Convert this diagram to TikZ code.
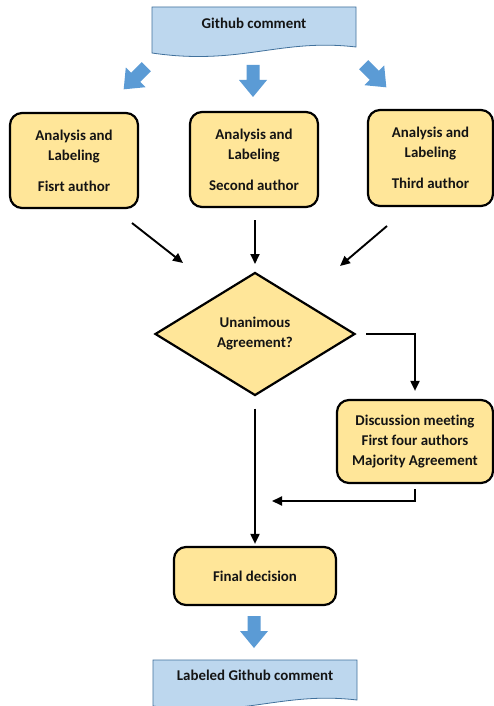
\documentclass[tikz,border=0pt]{standalone}
\usepackage{fontspec}
\setmainfont{Carlito}[Ligatures=NoCommon]
\usetikzlibrary{arrows.meta,shapes.geometric}
\definecolor{boxfill}{HTML}{FFE699}
\definecolor{docfill}{HTML}{BDD7EE}
\definecolor{docline}{HTML}{41719C}
\definecolor{barrow}{HTML}{5B9BD5}
\begin{document}
\begin{tikzpicture}[x=1pt,y=-1pt,
  txt/.style={font=\bfseries\fontsize{14.9}{20}\selectfont, text=black!92, align=center},
  stepbox/.style={txt, draw=black, line width=2.2pt, fill=boxfill, rounded corners=12pt, inner sep=0pt},
  decision/.style={txt, draw=black, line width=2.2pt, fill=boxfill, diamond, aspect=1.626, inner sep=0pt},
  conn/.style={line width=1.9pt, -{Triangle[length=10pt,width=9pt]}},
  docshape/.style={fill=docfill, draw=docline, line width=0.8pt},
  blockarrow/.pic={\fill[barrow] (-6.5,-16) -- (6.5,-16) -- (6.5,-1) -- (14,-1) -- (0,16) -- (-14,-1) -- (-6.5,-1) -- cycle;}
]
\useasboundingbox (0,0) rectangle (494,706);
\clip (0,0) rectangle (494,706);
\fill[white] (0,0) rectangle (494,706);

% top document
\draw[docshape] (152,7) -- (356,7) -- (356,47) .. controls (280,38) and (240,66) .. (152,53) -- cycle;
\node[txt] (doc1) at (254,23) {Github comment};

% block arrows
\pic at (135,78) [rotate=-45] {blockarrow};
\pic at (253,81) {blockarrow};
\pic at (375,76) [rotate=45] {blockarrow};

% author boxes
\node[stepbox, minimum width=128pt, minimum height=95pt] (b1) at (74,160.5) {Analysis and\\Labeling\\[11pt]Fisrt author};
\node[stepbox, minimum width=128pt, minimum height=95pt] (b2) at (254,159.5) {Analysis and\\Labeling\\[11pt]Second author};
\node[stepbox, minimum width=125pt, minimum height=96pt] (b3) at (430.5,158) {Analysis and\\Labeling\\[11pt]Third author};

% decision
\node[decision, minimum width=200pt, minimum height=123pt] (dia) at (255,334) {Unanimous\\Agreement?};

% discussion
\node[stepbox, minimum width=156pt, minimum height=83pt] (disc) at (415,441.5) {Discussion meeting\\First four authors\\Majority Agreement};

% final
\node[stepbox, minimum width=162pt, minimum height=58pt] (fin) at (255,576) {Final decision};

% bottom arrow and document
\pic at (254,632) {blockarrow};
\draw[docshape] (153,660) -- (357,660) -- (357,700) .. controls (281,691) and (241,719) .. (153,706) -- cycle;
\node[txt] (doc2) at (255,675) {Labeled Github comment};

% connectors
\coordinate (s1) at (132,223);
\coordinate (e1) at (183,263);
\coordinate (s2) at (255,220);
\coordinate (e2) at (255,264);
\coordinate (s3) at (387,226);
\coordinate (e3) at (340,266);
\coordinate (m) at (272,501);
\draw[conn] (s1) -- (e1);
\draw[conn] (s2) -- (e2);
\draw[conn] (s3) -- (e3);
\draw[conn, shorten <=10pt, shorten >=8pt] (dia.east) -| (disc.north);
\draw[conn, shorten <=5pt] (disc.south) |- (m);
\draw[conn, shorten <=12pt, shorten >=2pt] (dia.south) -- (fin.north);
\end{tikzpicture}
\end{document}
